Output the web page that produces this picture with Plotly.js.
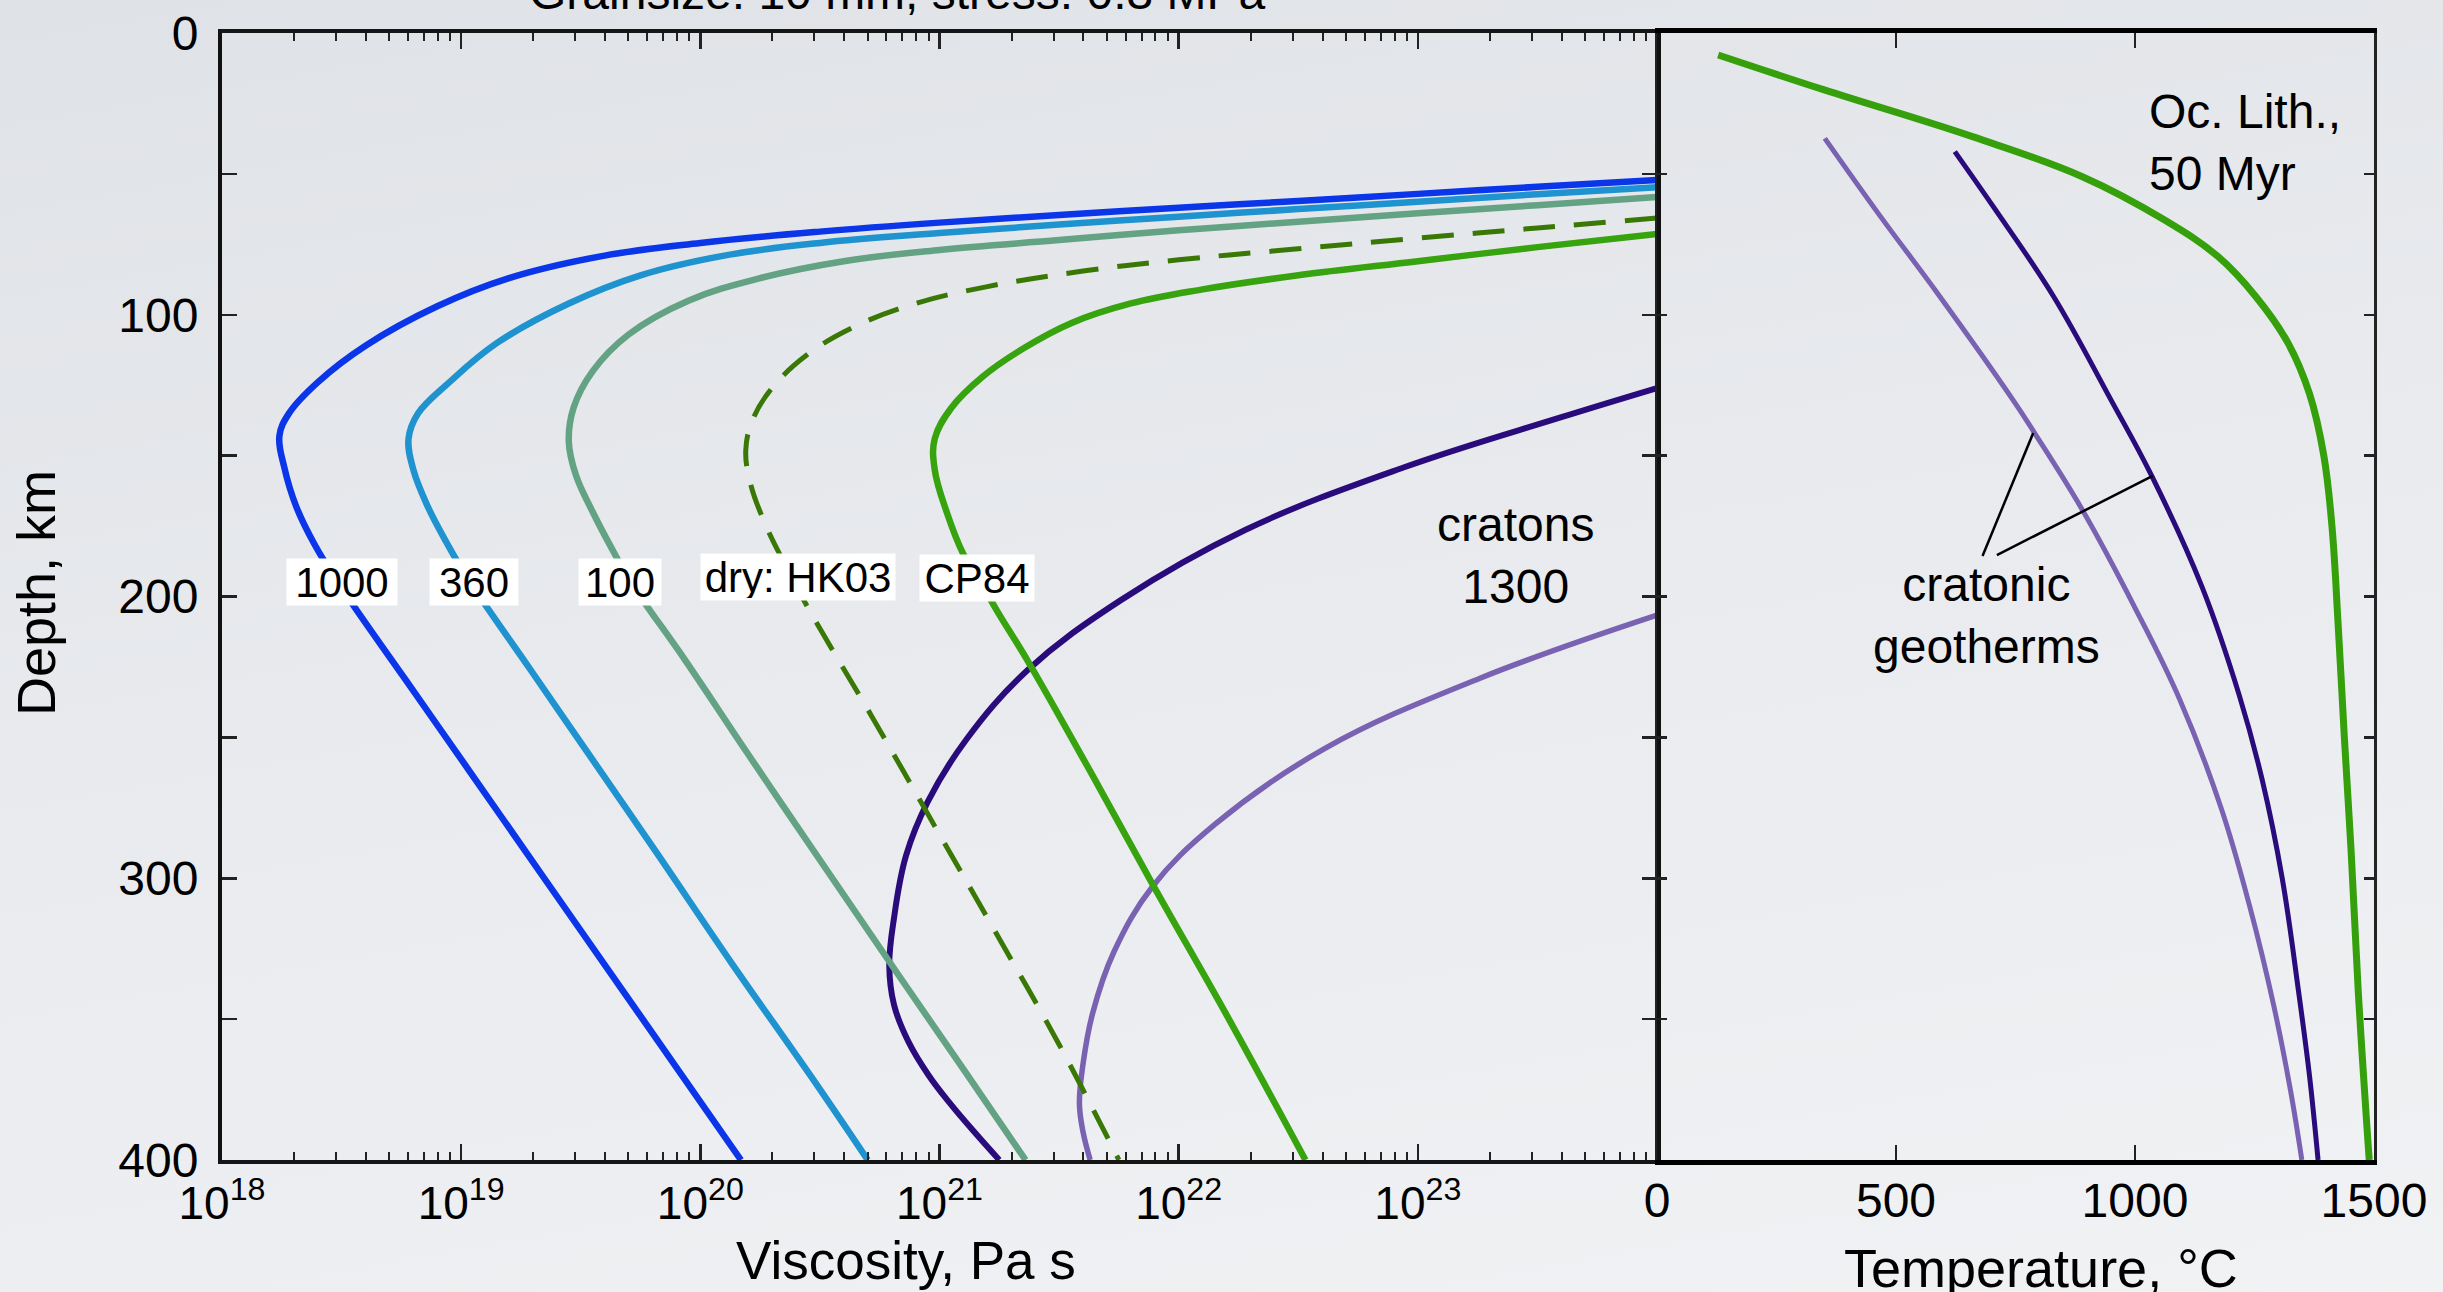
<!DOCTYPE html>
<html>
<head>
<meta charset="utf-8">
<script src="https://cdn.plot.ly/plotly-3.0.1.min.js"></script>
<style>
  html, body { margin: 0; padding: 0; }
  body {
    width: 2443px; height: 1292px; overflow: hidden;
    background: linear-gradient(170deg, #dfe2e6 0%, #e8eaee 45%, #f1f2f4 100%);
  }
  #chart { width: 2443px; height: 1292px; }
</style>
</head>
<body>
<div id="chart"></div>
<script>
// ---------- Viscosity profiles (log10 of viscosity in Pa s vs depth in km) ----------
const wet1000LogVisc = [24.0, 23.5, 23.0, 22.5, 22.0, 21.5, 21.0, 20.5, 20.0, 19.6, 19.2, 18.9, 18.6, 18.4, 18.28, 18.24, 18.26, 18.31, 18.39, 18.50, 18.763, 19.031, 19.367, 19.685, 20.17];
const wet1000Depth   = [52.2, 54.6, 57.1, 59.6, 62.0, 64.6, 67.3, 70.5, 74.5, 79, 87, 97, 111, 124, 135, 143, 154, 168, 182, 197, 229, 261.5, 302.4, 341, 400];

const wet360LogVisc = [24.0, 23.5, 23.0, 22.5, 22.0, 21.5, 21.0, 20.5, 20.1, 19.75, 19.45, 19.15, 18.95, 18.82, 18.78, 18.80, 18.86, 18.94, 19.03, 19.29, 19.55, 19.81, 20.13, 20.46, 20.70];
const wet360Depth   = [54.7, 57.2, 59.9, 62.5, 65.2, 68, 71, 74.5, 79, 86, 96, 110, 124, 135, 144, 155, 168, 181, 194, 226, 258, 290, 330, 370, 400];

const wet100LogVisc = [24.0, 23.5, 23.0, 22.5, 22.0, 21.5, 21.0, 20.6, 20.25, 19.95, 19.7, 19.55, 19.47, 19.45, 19.48, 19.55, 19.63, 19.71, 19.94, 20.20, 20.52, 20.85, 21.11, 21.36];
const wet100Depth   = [58.2, 61.1, 64, 67, 70, 73.5, 77, 81, 87, 95, 107, 120, 133, 145, 157, 170, 183, 195, 223, 256, 296, 337, 369, 400];

const dryHK03LogVisc = [24.0, 23.5, 23.0, 22.5, 22.0, 21.6, 21.2, 20.9, 20.65, 20.45, 20.3, 20.22, 20.19, 20.21, 20.27, 20.35, 20.45, 20.72, 20.98, 21.24, 21.50, 21.75];
const dryHK03Depth   = [65.7, 69.2, 72.8, 76.6, 80.5, 84.5, 90, 96, 104, 114, 126, 137, 148, 160, 174, 188, 204, 243, 281.5, 320, 359, 400];

const cp84LogVisc = [24.0, 23.5, 23.0, 22.5, 22.1, 21.8, 21.55, 21.35, 21.18, 21.05, 20.98, 20.98, 21.03, 21.10, 21.18, 21.24, 21.37, 21.63, 21.89, 22.21, 22.53];
const cp84Depth   = [71.3, 76, 81, 86, 91, 96, 103, 112, 122, 133, 144, 155, 170, 185, 196, 205, 223, 262, 302, 350, 400];

const cratonALogVisc = [24.0, 23.59, 22.94, 22.28, 21.76, 21.37, 21.11, 20.95, 20.86, 20.81, 20.79, 20.81, 20.87, 20.955, 21.045, 21.145, 21.25];
const cratonADepth   = [126, 136.6, 154.2, 176.3, 201.2, 226, 251, 273, 292, 314, 331, 345, 358, 370, 380, 390, 400];

const cratonBLogVisc = [24.0, 23.26, 22.61, 22.15, 21.89, 21.73, 21.64, 21.60, 21.585, 21.60, 21.63];
const cratonBDepth   = [206.6, 229, 254, 281, 303, 326, 348, 366, 380, 390, 400];

// ---------- Geotherms (temperature in deg C vs depth in km) ----------
const oceanicTemp  = [128, 350, 660, 890, 1062, 1174, 1253, 1320, 1365, 1395, 1412, 1425, 1438, 1452, 1467, 1490];
const oceanicDepth = [7.8, 20.2, 36.8, 51, 66.4, 79.4, 93.6, 110, 128, 150, 175, 210, 250, 290, 340, 400];

const cratonATemp     = [623, 705, 830, 950, 1035, 1140, 1218, 1266, 1308, 1342, 1365, 1383];
const cratonAGeoDepth = [42.1, 62, 93.6, 130.3, 157.2, 196.5, 235, 265, 300, 340, 370, 400];

const cratonBTemp     = [351, 467, 592, 745, 790, 890, 1000, 1094, 1180, 1240, 1290, 1325, 1349];
const cratonBGeoDepth = [37.4, 65, 93.6, 130.3, 142, 169.3, 204, 236.7, 275, 310, 345, 375, 400];

// ---------- Tick labels ----------
const depthTickVals  = [0, 100, 200, 300, 400];
const depthTickText  = ['0', '100', '200', '300', '400'];
const depthMinorVals = [50, 150, 250, 350];
const viscDecades    = [18, 19, 20, 21, 22, 23];
const tempTickVals   = [0, 500, 1000, 1500];
const tempTickText   = ['0', '500', '1000', '1500'];

// ---------- Curve labels ----------
const curveLabels = ['1000', '360', '100', 'dry: HK03', 'CP84'];

// ---------------------------------------------------------------------------
const FONT = 'Liberation Sans, Arial, Helvetica, sans-serif';
const W = 2443, H = 1292;
const toPa = arr => arr.map(v => Math.pow(10, v));
const SMOOTH = 1.1;

function viscTrace(logVisc, depth, color, width, dash) {
  return {
    type: 'scatter', mode: 'lines', xaxis: 'x', yaxis: 'y',
    x: toPa(logVisc), y: depth, hoverinfo: 'skip', showlegend: false,
    line: { color: color, width: width, dash: dash || 'solid', shape: 'spline', smoothing: SMOOTH }
  };
}
function geoTrace(temp, depth, color, width) {
  return {
    type: 'scatter', mode: 'lines', xaxis: 'x2', yaxis: 'y2',
    x: temp, y: depth, hoverinfo: 'skip', showlegend: false,
    line: { color: color, width: width, shape: 'spline', smoothing: SMOOTH }
  };
}

const traces = [
  viscTrace(cratonBLogVisc, cratonBDepth, '#7a62b2', 5.5),
  viscTrace(cratonALogVisc, cratonADepth, '#2a0b7c', 6),
  viscTrace(cp84LogVisc, cp84Depth, '#36a30f', 6.5),
  viscTrace(dryHK03LogVisc, dryHK03Depth, '#3a7806', 5, '32px,19px'),
  viscTrace(wet100LogVisc, wet100Depth, '#64a284', 6.5),
  viscTrace(wet360LogVisc, wet360Depth, '#1f93cf', 6.5),
  viscTrace(wet1000LogVisc, wet1000Depth, '#0b35e8', 6.5),
  geoTrace(cratonBTemp, cratonBGeoDepth, '#7a62b2', 5),
  geoTrace(cratonATemp, cratonAGeoDepth, '#2a0b7c', 5),
  geoTrace(oceanicTemp, oceanicDepth, '#35a00c', 7)
];

// log-axis tick positions
const majorVisc = viscDecades.map(d => Math.pow(10, d));
const majorViscText = viscDecades.map(d => '10<sup>' + d + '</sup>');
const minorVisc = [];
viscDecades.forEach(d => { for (let k = 2; k <= 9; k++) minorVisc.push(k * Math.pow(10, d)); });

const yDomain = [1 - 1160 / H, 1 - 33 / H];
const commonAxis = { showgrid: false, zeroline: false, fixedrange: true, automargin: false };

const layout = {
  width: W, height: H,
  margin: { l: 0, r: 0, t: 0, b: 0, pad: 0 },
  paper_bgcolor: 'rgba(0,0,0,0)',
  plot_bgcolor: 'rgba(0,0,0,0)',
  font: { family: FONT, color: '#000' },
  showlegend: false,
  xaxis: Object.assign({}, commonAxis, {
    type: 'log', domain: [222 / W, 1657 / W], range: [18, 24], anchor: 'y',
    showline: true, linewidth: 4, linecolor: '#151515', mirror: 'allticks',
    ticks: 'inside', ticklen: 16, tickwidth: 2.5, tickcolor: '#222',
    tickmode: 'array', tickvals: majorVisc, ticktext: majorViscText,
    tickfont: { family: FONT, size: 46, color: '#000' }, ticklabelstandoff: 0,
    minor: { tickmode: 'array', tickvals: minorVisc, ticks: 'inside', ticklen: 8,
             tickwidth: 2, tickcolor: '#222', showgrid: false }
  }),
  yaxis: Object.assign({}, commonAxis, {
    domain: yDomain, range: [400, 0], anchor: 'x',
    showline: true, linewidth: 4, linecolor: '#111', mirror: 'allticks',
    ticks: 'inside', ticklen: 15, tickwidth: 2.5, tickcolor: '#222',
    tickmode: 'array', tickvals: depthTickVals, ticktext: depthTickText,
    tickfont: { family: FONT, size: 48, color: '#000' }, ticklabelstandoff: 10,
    minor: { tickmode: 'array', tickvals: depthMinorVals, ticks: 'inside', ticklen: 15,
             tickwidth: 2.5, tickcolor: '#222', showgrid: false }
  }),
  xaxis2: Object.assign({}, commonAxis, {
    domain: [1657 / W, 2374 / W], range: [0, 1500], anchor: 'y2',
    showline: true, linewidth: 5, linecolor: '#000', mirror: 'allticks',
    ticks: 'inside', ticklen: 15, tickwidth: 2.5, tickcolor: '#222',
    tickmode: 'array', tickvals: tempTickVals, ticktext: tempTickText,
    tickfont: { family: FONT, size: 48, color: '#000' }, ticklabelstandoff: -6
  }),
  yaxis2: Object.assign({}, commonAxis, {
    domain: yDomain, range: [400, 0], anchor: 'x2',
    showline: true, linewidth: 2.5, linecolor: '#222', mirror: 'allticks',
    ticks: 'inside', ticklen: 10, tickwidth: 2.5, tickcolor: '#222',
    tickmode: 'array', tickvals: depthTickVals, showticklabels: false,
    minor: { tickmode: 'array', tickvals: depthMinorVals, ticks: 'inside', ticklen: 10,
             tickwidth: 2.5, tickcolor: '#222', showgrid: false }
  }),
  shapes: [
    { type: 'line', xref: 'x2', yref: 'y2', x0: 681, y0: 185.6, x1: 787, y1: 142,
      line: { color: '#000', width: 2.5 } },
    { type: 'line', xref: 'x2', yref: 'y2', x0: 711, y0: 185.3, x1: 1037, y1: 157.2,
      line: { color: '#000', width: 2.5 } }
  ],
  annotations: []
};

// white-boxed curve labels on the viscosity panel
const boxPos = [
  { x: 18.502, y: 194.9, w: 106 },
  { x: 19.054, y: 195.0, w: 84 },
  { x: 19.663, y: 194.7, w: 78 },
  { x: 20.41,  y: 192.9, w: 190 },
  { x: 21.155, y: 193.6, w: 110 }
];
curveLabels.forEach((t, i) => {
  layout.annotations.push({
    text: t, xref: 'x', yref: 'y', x: boxPos[i].x, y: boxPos[i].y,
    showarrow: false, xanchor: 'center', yanchor: 'middle',
    bgcolor: '#ffffff', borderpad: 2, width: boxPos[i].w, height: 42,
    font: { family: FONT, size: 42, color: '#000' }
  });
});

layout.annotations.push(
  { text: 'cratons<br>1300', xref: 'x', yref: 'y', x: 23.41, y: 185.3,
    showarrow: false, xanchor: 'center', yanchor: 'middle', align: 'center',
    font: { family: FONT, size: 48, color: '#000' } },
  { text: 'Oc. Lith.,<br>50 Myr', xref: 'x2', yref: 'y2', x: 1025, y: 39,
    showarrow: false, xanchor: 'left', yanchor: 'middle', align: 'left',
    font: { family: FONT, size: 48, color: '#000' } },
  { text: 'cratonic<br>geotherms', xref: 'x2', yref: 'y2', x: 690, y: 206.6,
    showarrow: false, xanchor: 'center', yanchor: 'middle', align: 'center',
    font: { family: FONT, size: 48, color: '#000' } },
  // panel title, partly running off the top edge
  { text: 'Grainsize: 10 mm, stress: 0.3 MPa', xref: 'paper', yref: 'paper',
    x: 897 / W, y: 1 - 21 / H, showarrow: false, xanchor: 'center', yanchor: 'bottom',
    font: { family: FONT, size: 48, color: '#000' } },
  // axis titles
  { text: 'Viscosity, Pa s', xref: 'paper', yref: 'paper', x: 906 / W, y: 0,
    showarrow: false, xanchor: 'center', yanchor: 'bottom',
    font: { family: FONT, size: 53, color: '#000' } },
  { text: 'Temperature, °C', xref: 'paper', yref: 'paper', x: 2041 / W, y: -8 / H,
    showarrow: false, xanchor: 'center', yanchor: 'bottom',
    font: { family: FONT, size: 54, color: '#000' } },
  { text: 'Depth, km', xref: 'paper', yref: 'paper', x: 36 / W, y: 1 - 593 / H,
    showarrow: false, xanchor: 'center', yanchor: 'middle', textangle: -90,
    font: { family: FONT, size: 54, color: '#000' } }
);

Plotly.newPlot('chart', traces, layout, { staticPlot: true, displayModeBar: false });
</script>
</body>
</html>
